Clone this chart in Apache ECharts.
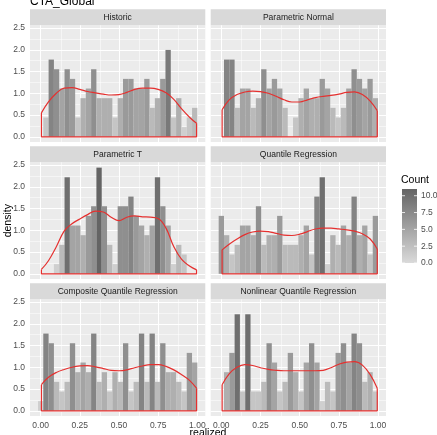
<!DOCTYPE html>
<html><head><meta charset="utf-8">
<script src="https://cdn.jsdelivr.net/npm/echarts@6/dist/echarts.min.js"></script>
<style>html,body{margin:0;padding:0;background:#fff}#c{width:437px;height:435px}</style>
</head><body><div id="c"></div>
<script>
// ---------- data ----------
const chartTitle = 'CTA_Global';
const panelTitles = ['Historic', 'Parametric Normal', 'Parametric T', 'Quantile Regression', 'Composite Quantile Regression', 'Nonlinear Quantile Regression'];
const nObs = 133;
const binWidth = 0.0339;
const binCenters = [0, 0.0339, 0.0678, 0.1017, 0.1356, 0.1695, 0.2034, 0.2373, 0.2712, 0.3051,
  0.339, 0.3729, 0.4068, 0.4407, 0.4746, 0.5085, 0.5424, 0.5763, 0.6102, 0.6441,
  0.678, 0.7119, 0.7458, 0.7797, 0.8136, 0.8475, 0.8814, 0.9153, 0.9492, 0.9831];

const countsHistoric = [0,2,8,7,5,7,6,2,4,5, 7,4,4,4,2,4,6,6,5,5, 6,3,4,6,9,2,4,1,2,3];
const countsParamNormal = [0,8,8,3,5,5,3,4,7,5, 6,5,3,0,2,4,5,4,4,6, 5,3,2,3,5,7,6,5,6,4];
const countsParamT = [0,0,0,1,3,10,5,5,4,6, 7,11,7,3,1,7,7,8,6,5, 4,5,10,7,5,1,3,2,0,0];
const countsQuantReg = [6,4,2,3,5,5,4,7,3,4, 4,6,3,3,3,4,5,2,8,10, 1,4,3,5,4,8,4,5,2,6];
const countsCompositeQR = [1,8,7,3,2,3,7,4,5,4, 8,3,4,2,4,3,7,2,3,8, 3,8,3,7,4,4,3,2,6,5];
const countsNonlinearQR = [0,4,6,10,2,10,2,2,3,7, 5,2,3,6,4,2,5,7,5,1, 3,2,6,7,5,8,7,3,4,2];

const densityX = [0.005, 0.05, 0.1, 0.15, 0.2, 0.25, 0.3, 0.35, 0.4, 0.45, 0.5, 0.55, 0.6, 0.65, 0.7, 0.75, 0.8, 0.85, 0.9, 0.95, 0.995];
const densHistoric = [0.55,0.80,1.00,1.12,1.13,1.09,1.04,1.01,0.98,0.96,0.97,1.02,1.09,1.12,1.12,1.09,1.01,0.86,0.64,0.45,0.31];
const densParamNormal = [0.62,0.85,0.97,1.03,1.05,1.04,1.00,0.93,0.85,0.80,0.80,0.85,0.90,0.93,0.95,0.98,1.02,1.03,0.97,0.82,0.60];
const densParamT = [0.10,0.30,0.62,0.98,1.15,1.26,1.36,1.44,1.42,1.30,1.22,1.30,1.33,1.31,1.30,1.27,1.05,0.62,0.33,0.18,0.09];
const densQuantReg = [0.55,0.68,0.80,0.90,0.96,0.98,0.97,0.93,0.89,0.88,0.91,0.97,1.03,1.05,1.05,1.03,1.01,0.98,0.92,0.80,0.57];
const densCompositeQR = [0.60,0.77,0.88,0.95,1.00,1.03,1.04,1.01,0.97,0.93,0.92,0.94,0.99,1.03,1.06,1.06,1.02,0.94,0.83,0.70,0.52];
const densNonlinearQR = [0.60,0.85,1.00,1.06,1.04,0.99,0.95,0.93,0.92,0.92,0.92,0.92,0.92,0.93,0.99,1.07,1.12,1.13,1.05,0.83,0.52];

const xTicks = [0, 0.25, 0.5, 0.75, 1];
const xMinorTicks = [0.125, 0.375, 0.625, 0.875];
const yTicks = [0, 0.5, 1, 1.5, 2, 2.5];
const yMinorTicks = [0.25, 0.75, 1.25, 1.75, 2.25];
const legendTicks = [0, 2.5, 5, 7.5, 10];
const countMax = 11;

const panelCounts = [countsHistoric, countsParamNormal, countsParamT, countsQuantReg, countsCompositeQR, countsNonlinearQR];
const panelDens = [densHistoric, densParamNormal, densParamT, densQuantReg, densCompositeQR, densNonlinearQR];

// ---------- layout ----------
const FONT = '"Liberation Sans", Arial, sans-serif';
const colLeft = [30, 210.7];
const panelW = 175.3;
const rowTop = [25.3, 162.3, 299.3];
const panelH = 116.8;
const stripH = 16;
const xMin = -0.0678, xMax = 1.0508, yMin = -0.122, yMax = 2.562;
const lowColor = '#DADADA', highColor = '#646464';
const red = '#E5302F';

const grids = [], xAxes = [], yAxes = [], series = [], graphics = [];
const barSeriesIdx = [];

for (let p = 0; p < 6; p++) {
  const col = p % 2, row = Math.floor(p / 2);
  grids.push({left: colLeft[col], top: rowTop[row], width: panelW, height: panelH,
    show: true, backgroundColor: '#EBEBEB', borderWidth: 0, containLabel: false});
  const bottomRow = row === 2, leftCol = col === 0;
  xAxes.push({gridIndex: p, type: 'value', min: xMin, max: xMax,
    axisLine: {show: false}, splitLine: {show: false},
    axisTick: {show: bottomRow, length: 3, customValues: xTicks, lineStyle: {color: '#333333', width: 0.8}},
    axisLabel: {show: bottomRow, customValues: xTicks, margin: 5, fontSize: 8.5, color: '#4D4D4D', fontFamily: FONT,
      formatter: v => v.toFixed(2)}});
  yAxes.push({gridIndex: p, type: 'value', min: yMin, max: yMax,
    axisLine: {show: false}, splitLine: {show: false},
    axisTick: {show: leftCol, length: 3, customValues: yTicks, lineStyle: {color: '#333333', width: 0.8}},
    axisLabel: {show: leftCol, customValues: yTicks, margin: 5, fontSize: 8.5, color: '#4D4D4D', fontFamily: FONT,
      formatter: v => v.toFixed(1)}});

  const counts = panelCounts[p];
  barSeriesIdx.push(series.length);
  series.push({type: 'custom', xAxisIndex: p, yAxisIndex: p, z: 2, silent: true,
    data: counts.map((c, i) => [binCenters[i], c / (nObs * binWidth), c]),
    encode: {x: 0, y: 1},
    renderItem: (params, api) => {
      const x = api.value(0), d = api.value(1);
      if (!(d > 0)) return null;
      const a = api.coord([x - binWidth / 2, d]);
      const b = api.coord([x + binWidth / 2, 0]);
      return {type: 'rect', shape: {x: a[0], y: a[1], width: b[0] - a[0], height: b[1] - a[1]},
        style: {fill: api.visual('color')}};
    }});

  const dens = panelDens[p];
  series.push({type: 'line', xAxisIndex: p, yAxisIndex: p, z: 3, silent: true,
    data: densityX.map((x, i) => [x, dens[i]]), smooth: 0.4, showSymbol: false, symbol: 'none',
    lineStyle: {color: red, width: 1.2}});

  const last = densityX.length - 1;
  const gridLines = [];
  xMinorTicks.forEach(v => gridLines.push({xAxis: v, lineStyle: {color: '#FFFFFF', width: 0.5, type: 'solid'}}));
  yMinorTicks.forEach(v => gridLines.push({yAxis: v, lineStyle: {color: '#FFFFFF', width: 0.5, type: 'solid'}}));
  xTicks.forEach(v => gridLines.push({xAxis: v, lineStyle: {color: '#FFFFFF', width: 1, type: 'solid'}}));
  yTicks.forEach(v => gridLines.push({yAxis: v, lineStyle: {color: '#FFFFFF', width: 1, type: 'solid'}}));
  series.push({type: 'line', xAxisIndex: p, yAxisIndex: p, z: 3, silent: true,
    data: [[densityX[0], dens[0]], [densityX[0], 0], [densityX[last], 0], [densityX[last], dens[last]]],
    showSymbol: false, symbol: 'none', lineStyle: {color: red, width: 1.2},
    markLine: {silent: true, z: 1, symbol: 'none', label: {show: false}, animation: false,
      emphasis: {disabled: true}, data: gridLines}});

  // strip
  graphics.push({type: 'rect', left: colLeft[col], top: rowTop[row] - stripH, silent: true,
    shape: {width: panelW, height: stripH}, style: {fill: '#D9D9D9'}});
  graphics.push({type: 'text', x: colLeft[col] + panelW / 2, y: rowTop[row] - stripH / 2, silent: true,
    style: {text: panelTitles[p], fill: '#1A1A1A', font: '8.5px ' + FONT, align: 'center', verticalAlign: 'middle'}});
}

// titles
graphics.push({type: 'text', x: 30, y: 1.5, silent: true,
  style: {text: chartTitle, fill: '#000000', font: '12px ' + FONT, align: 'left', verticalAlign: 'middle'}});
graphics.push({type: 'text', x: 8.5, y: (rowTop[0] + rowTop[2] + panelH) / 2, rotation: Math.PI / 2, silent: true,
  style: {text: 'density', fill: '#000000', font: '10.5px ' + FONT, align: 'center', verticalAlign: 'middle'}});
graphics.push({type: 'text', x: (colLeft[0] + colLeft[1] + panelW) / 2, y: 433.5, silent: true,
  style: {text: 'realized', fill: '#000000', font: '10.5px ' + FONT, align: 'center', verticalAlign: 'middle'}});

// legend (colour bar)
const lgX = 402, lgTop = 189, lgH = 74, lgW = 15;
graphics.push({type: 'text', x: 401, y: 180.5, silent: true,
  style: {text: 'Count', fill: '#000000', font: '10.5px ' + FONT, align: 'left', verticalAlign: 'middle'}});
graphics.push({type: 'rect', left: lgX, top: lgTop, silent: true, shape: {width: lgW, height: lgH},
  style: {fill: new echarts.graphic.LinearGradient(0, 0, 0, 1, [{offset: 0, color: highColor}, {offset: 1, color: lowColor}])}});
legendTicks.forEach(v => {
  const y = lgTop + lgH - v / countMax * lgH;
  graphics.push({type: 'line', silent: true, shape: {x1: lgX, y1: y, x2: lgX + 3, y2: y}, style: {stroke: '#FFFFFF', lineWidth: 0.8}});
  graphics.push({type: 'line', silent: true, shape: {x1: lgX + lgW - 3, y1: y, x2: lgX + lgW, y2: y}, style: {stroke: '#FFFFFF', lineWidth: 0.8}});
  graphics.push({type: 'text', x: lgX + lgW + 4, y: y, silent: true,
    style: {text: v.toFixed(1), fill: '#4D4D4D', font: '8.5px ' + FONT, align: 'left', verticalAlign: 'middle'}});
});

const chart = echarts.init(document.getElementById('c'), null, {renderer: 'canvas', width: 437, height: 435});
chart.setOption({
  animation: false,
  backgroundColor: '#FFFFFF',
  grid: grids, xAxis: xAxes, yAxis: yAxes, series: series,
  visualMap: {type: 'continuous', show: false, min: 0, max: countMax, dimension: 2,
    seriesIndex: barSeriesIdx, inRange: {color: [lowColor, highColor]}},
  graphic: graphics
});
</script></body></html>
